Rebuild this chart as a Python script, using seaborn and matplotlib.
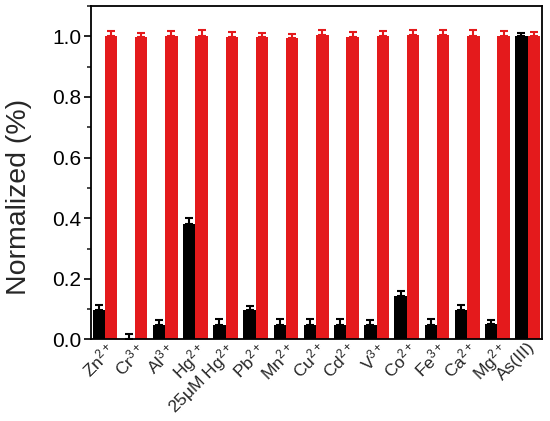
import matplotlib
matplotlib.use("Agg")
import matplotlib.pyplot as plt
import seaborn as sns
import pandas as pd
import numpy as np
from matplotlib.ticker import MultipleLocator

categories = [r"Zn$^{2+}$", r"Cr$^{3+}$", r"Al$^{3+}$", r"Hg$^{2+}$", r"25μM Hg$^{2+}$",
              r"Pb$^{2+}$", r"Mn$^{2+}$", r"Cu$^{2+}$", r"Cd$^{2+}$", r"V$^{3+}$",
              r"Co$^{2+}$", r"Fe$^{3+}$", r"Ca$^{2+}$", r"Mg$^{2+}$", "As(III)"]
black_vals = [0.097, 0.003, 0.049, 0.382, 0.048, 0.098, 0.048, 0.048, 0.048, 0.048,
              0.144, 0.049, 0.096, 0.050, 1.000]
black_err = [0.016, 0.016, 0.015, 0.020, 0.018, 0.014, 0.018, 0.019, 0.018, 0.016,
             0.017, 0.018, 0.018, 0.014, 0.012]
red_vals = [1.000, 0.997, 1.002, 1.002, 0.997, 0.997, 0.996, 1.004, 0.998, 1.002,
            1.004, 1.006, 1.002, 1.002, 1.002]
red_err = [0.017, 0.015, 0.015, 0.018, 0.017, 0.015, 0.013, 0.018, 0.015, 0.014,
           0.017, 0.016, 0.018, 0.015, 0.013]
series = ["A", "B"]
colors = ["#000000", "#E41A1C"]

sns.set_theme(style="white")
plt.rcParams["font.family"] = ["Liberation Sans", "DejaVu Sans"]
plt.rcParams["mathtext.fontset"] = "custom"
plt.rcParams["mathtext.rm"] = "Liberation Sans"
plt.rcParams["mathtext.it"] = "Liberation Sans"
plt.rcParams["mathtext.default"] = "regular"

df = pd.DataFrame({
    "cat": categories * 2,
    "val": black_vals + red_vals,
    "err": black_err + red_err,
    "series": [series[0]] * len(categories) + [series[1]] * len(categories),
})

fig = plt.figure(figsize=(5.5, 4.21), dpi=100)
ax = fig.add_axes([0.1655, 0.1936, 0.8195, 0.7921])
sns.barplot(data=df, x="cat", y="val", hue="series", hue_order=series,
            palette=colors, errorbar=None, width=0.82, linewidth=0,
            saturation=1, ax=ax, legend=False)

# error bars (upper only) at bar centres from the drawn patches
for si, (vals, errs, c) in enumerate([(black_vals, black_err, colors[0]),
                                      (red_vals, red_err, colors[1])]):
    patches = ax.patches[si * len(categories):(si + 1) * len(categories)]
    xs = [p.get_x() + p.get_width() / 2 for p in patches]
    ax.errorbar(xs, vals, yerr=[np.zeros(len(vals)), errs], fmt="none",
                ecolor=c, elinewidth=1.5, capsize=3.0, capthick=1.5, zorder=3)

ax.set_ylim(0, 1.1)
ax.set_xlim(-0.46, 14.47)
ax.yaxis.set_major_locator(MultipleLocator(0.2))
ax.yaxis.set_minor_locator(MultipleLocator(0.1))
ax.set_yticklabels([f"{v:.1f}" for v in ax.get_yticks()])
ax.tick_params(axis="y", which="major", direction="out", length=5, width=1.2,
               labelsize=15, left=True, pad=2, colors="black")
ax.tick_params(axis="y", which="minor", direction="out", length=3, width=1.2, left=True)
ax.tick_params(axis="x", length=0, labelsize=12.5, pad=0)
plt.setp(ax.get_xticklabels(), rotation=45, ha="right", rotation_mode="anchor")
ax.set_xlabel("")
ax.set_ylabel("Normalized (%)", fontsize=20.5)
ax.yaxis.set_label_coords(-0.131, 0.427)
for s in ax.spines.values():
    s.set_visible(True)
    s.set_color("black")
    s.set_linewidth(1.3)

fig.savefig("out.png", dpi=100)
